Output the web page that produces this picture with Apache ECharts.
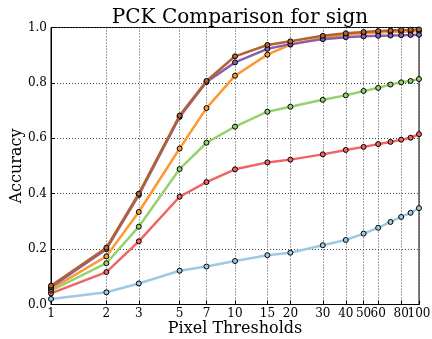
<!DOCTYPE html>
<html>
<head>
<meta charset="utf-8">
<script src="https://cdn.jsdelivr.net/npm/echarts@6/dist/echarts.min.js"></script>
<style>html,body{margin:0;padding:0;background:#fff}#c{width:432px;height:339px}</style>
</head>
<body>
<div id="c"></div>
<script>
// Pixel thresholds (x values, log scale)
var thresholds = [1, 2, 3, 5, 7, 10, 15, 20, 30, 40, 50, 60, 70, 80, 90, 100];
var tickLabels = [1, 2, 3, 5, 7, 10, 15, 20, 30, 40, 50, 60, 80, 100];
var yTicks = [0.0, 0.2, 0.4, 0.6, 0.8, 1.0];

var seriesBlue   = [0.020, 0.044, 0.076, 0.122, 0.137, 0.157, 0.178, 0.187, 0.214, 0.233, 0.256, 0.277, 0.298, 0.316, 0.331, 0.348];
var seriesRed    = [0.040, 0.117, 0.228, 0.389, 0.442, 0.488, 0.513, 0.523, 0.542, 0.558, 0.569, 0.579, 0.587, 0.595, 0.602, 0.615];
var seriesGreen  = [0.050, 0.149, 0.281, 0.489, 0.584, 0.642, 0.696, 0.714, 0.739, 0.755, 0.771, 0.782, 0.794, 0.802, 0.807, 0.814];
var seriesOrange = [0.056, 0.174, 0.334, 0.563, 0.709, 0.826, 0.902, 0.938, 0.962, 0.974, 0.979, 0.982, 0.984, 0.985, 0.986, 0.987];
var seriesPurple = [0.062, 0.200, 0.395, 0.677, 0.803, 0.874, 0.923, 0.940, 0.958, 0.965, 0.968, 0.970, 0.971, 0.972, 0.973, 0.974];
var seriesBrown  = [0.068, 0.205, 0.400, 0.682, 0.807, 0.896, 0.937, 0.950, 0.970, 0.979, 0.984, 0.987, 0.989, 0.991, 0.992, 0.993];

var names  = ['Method A', 'Method B', 'Method C', 'Method D', 'Method E', 'Method F'];
var values = [seriesBlue, seriesRed, seriesGreen, seriesOrange, seriesPurple, seriesBrown];
var colors = ['#9ecae1', '#ef6464', '#96d16e', '#fe9830', '#8560b0', '#b2622e'];

function lg(v) { return Math.log(v) / Math.LN10; }
var tickPos = tickLabels.map(lg);
// labels split into two bottom axes so that neighbouring labels (80, 100) are both drawn
var labelPosA = tickLabels.filter(function (v, i) { return i % 2 === 0; }).map(lg);
var labelPosB = tickLabels.filter(function (v, i) { return i % 2 === 1; }).map(lg);

var series = values.map(function (vals, i) {
  return {
    name: names[i],
    type: 'line',
    xAxisIndex: 0,
    data: thresholds.map(function (t, j) { return [lg(t), vals[j]]; }),
    symbol: 'circle',
    symbolSize: 5,
    showSymbol: true,
    lineStyle: { color: colors[i], width: 2.5 },
    itemStyle: { color: colors[i], borderColor: '#000', borderWidth: 1 },
    z: 2 + i,
    animation: false
  };
});

var labelFmt = function (v) { return String(Math.round(Math.pow(10, v))); };
var labelStyle = { fontFamily: 'DejaVu Serif', fontSize: 12, color: '#000' };

var chart = echarts.init(document.getElementById('c'), null, { renderer: 'canvas' });
chart.setOption({
  animation: false,
  backgroundColor: '#fff',
  title: {
    text: 'PCK Comparison for sign',
    left: 235, top: 3, textAlign: 'center',
    textStyle: { fontFamily: 'DejaVu Serif', fontSize: 20, fontWeight: 'normal', color: '#000' }
  },
  grid: { left: 51, right: 13, top: 27.5, bottom: 34.5, show: true, borderColor: '#000', borderWidth: 1,
          backgroundColor: 'transparent', containLabel: false, outerBoundsMode: 'none' },
  xAxis: [{
    type: 'value', min: 0, max: 2, position: 'bottom',
    name: 'Pixel Thresholds', nameLocation: 'middle', nameGap: 16, nameMoveOverlap: false,
    nameTextStyle: { fontFamily: 'DejaVu Serif', fontSize: 16, color: '#000' },
    axisLine: { show: true, lineStyle: { color: '#000', width: 1 } },
    axisTick: { show: true, inside: true, length: 4, customValues: tickPos, lineStyle: { color: '#000' } },
    axisLabel: Object.assign({
      customValues: labelPosA, margin: 3, hideOverlap: false, showMinLabel: true, showMaxLabel: true,
      formatter: labelFmt
    }, labelStyle),
    splitLine: { show: true, lineStyle: { color: '#444', type: [1, 2], width: 1 } }
  }, {
    type: 'value', min: 0, max: 2, position: 'bottom', offset: 0,
    axisLine: { show: false },
    axisTick: { show: false },
    splitLine: { show: false },
    axisLabel: Object.assign({
      customValues: labelPosB, margin: 3, hideOverlap: false, showMinLabel: true, showMaxLabel: true,
      formatter: labelFmt
    }, labelStyle)
  }],
  yAxis: {
    type: 'value', min: 0, max: 1, interval: 0.2,
    name: 'Accuracy', nameLocation: 'middle', nameGap: 26, nameMoveOverlap: false,
    nameTextStyle: { fontFamily: 'DejaVu Serif', fontSize: 16, color: '#000' },
    axisLine: { show: true, lineStyle: { color: '#000', width: 1 } },
    axisTick: { show: true, inside: true, length: 4, lineStyle: { color: '#000' } },
    axisLabel: {
      margin: 4, fontFamily: 'DejaVu Serif', fontSize: 12, color: '#000', showMinLabel: true, showMaxLabel: true,
      formatter: function (v) { return v.toFixed(1); }
    },
    splitLine: { show: true, lineStyle: { color: '#444', type: [1, 2], width: 1 } }
  },
  series: series
});
</script>
</body>
</html>
